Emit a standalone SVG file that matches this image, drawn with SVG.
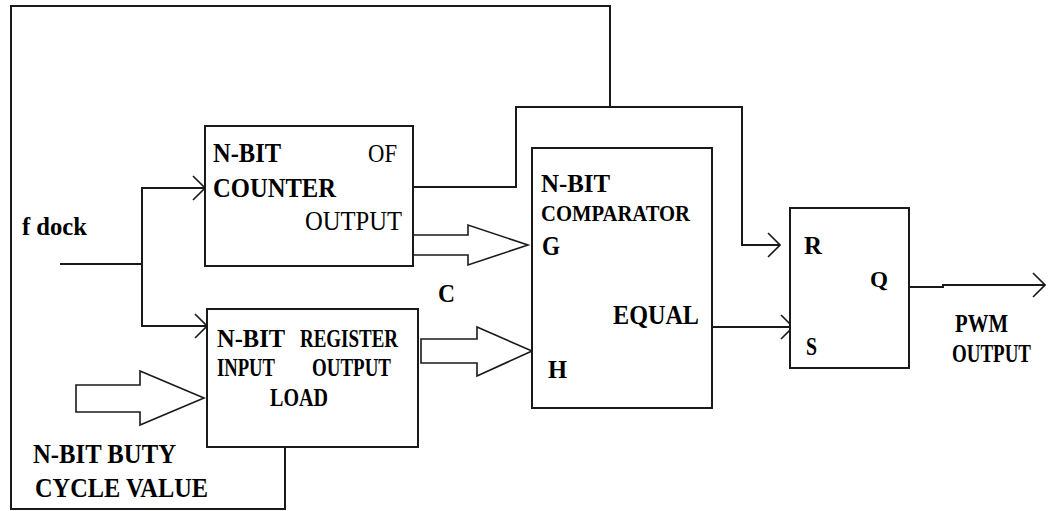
<svg xmlns="http://www.w3.org/2000/svg" width="1050" height="511" viewBox="0 0 1050 511">
<style>
.box{fill:#fff;stroke:#1a1a1a;stroke-width:2}
.ln{fill:none;stroke:#1a1a1a;stroke-width:2}
.bus{fill:#fff;stroke:#1a1a1a;stroke-width:1.6;stroke-linejoin:miter}
text{font-family:"Liberation Serif","Times New Roman",serif;font-weight:bold;fill:#000}
.rg{font-weight:normal}
</style>
<defs>
<marker id="ah" viewBox="0 0 14 26" refX="13" refY="13" markerWidth="14" markerHeight="26" markerUnits="userSpaceOnUse" orient="auto">
<path d="M1,1 L13,13 L1,25" fill="none" stroke="#1a1a1a" stroke-width="1.6"/>
</marker>
</defs>
<rect width="1050" height="511" fill="#fff"/>
<g id="connectors">
<path class="ln" d="M60,264 H142 V188 H205" marker-end="url(#ah)"/>
<path class="ln" d="M142,264 V326 H207" marker-end="url(#ah)"/>
<path class="ln" d="M285,447 V509 H11 V6 H610 V107"/>
<path class="ln" d="M412,187 H516 V107 H742 V245 H780" marker-end="url(#ah)"/>
<path class="ln" d="M712,327 H793" marker-end="url(#ah)"/>
<path class="ln" d="M909,287 H943 V285 H1045" marker-end="url(#ah)"/>
<polygon class="bus" points="412,235 468,235 468,225 528,245 468,265 468,255 412,255"/>
<polygon class="bus" points="421,339 477,339 477,327 532,351 477,376 477,363 421,363"/>
<polygon class="bus" points="76,385 140,385 140,371 204,398 140,425 140,412 76,412"/>
</g>
<g id="clock">
<text x="22" y="235" font-size="25" textLength="65" lengthAdjust="spacingAndGlyphs">f dock</text>
</g>
<g id="counter">
<rect class="box" x="205" y="126" width="208" height="140"/>
<text x="213" y="162" font-size="28" textLength="68" lengthAdjust="spacingAndGlyphs">N-BIT</text>
<text class="rg" x="368" y="162" font-size="25" textLength="29" lengthAdjust="spacingAndGlyphs">OF</text>
<text x="213" y="197" font-size="27" textLength="123" lengthAdjust="spacingAndGlyphs">COUNTER</text>
<text class="rg" x="305" y="230" font-size="27" textLength="97" lengthAdjust="spacingAndGlyphs">OUTPUT</text>
</g>
<g id="c-label">
<text x="438" y="302" font-size="25" textLength="17" lengthAdjust="spacingAndGlyphs">C</text>
</g>
<g id="register">
<rect class="box" x="207" y="309" width="211" height="138"/>
<text x="217" y="347" font-size="26" textLength="68" lengthAdjust="spacingAndGlyphs">N-BIT</text>
<text x="300" y="347" font-size="26" textLength="98" lengthAdjust="spacingAndGlyphs">REGISTER</text>
<text x="217" y="376" font-size="25" textLength="58" lengthAdjust="spacingAndGlyphs">INPUT</text>
<text x="312" y="376" font-size="25" textLength="79" lengthAdjust="spacingAndGlyphs">OUTPUT</text>
<text x="270" y="406" font-size="25" textLength="58" lengthAdjust="spacingAndGlyphs">LOAD</text>
</g>
<g id="duty-input">
<text x="33" y="463" font-size="27" textLength="143" lengthAdjust="spacingAndGlyphs">N-BIT BUTY</text>
<text x="35" y="497" font-size="28" textLength="173" lengthAdjust="spacingAndGlyphs">CYCLE VALUE</text>
</g>
<g id="comparator">
<rect class="box" x="532" y="148" width="180" height="260"/>
<text x="541" y="192" font-size="26" textLength="69" lengthAdjust="spacingAndGlyphs">N-BIT</text>
<text x="541" y="221" font-size="23" textLength="149" lengthAdjust="spacingAndGlyphs">COMPARATOR</text>
<text x="542" y="255" font-size="27" textLength="18" lengthAdjust="spacingAndGlyphs">G</text>
<text x="613" y="324" font-size="27" textLength="86" lengthAdjust="spacingAndGlyphs">EQUAL</text>
<text x="548" y="378" font-size="26" textLength="19" lengthAdjust="spacingAndGlyphs">H</text>
</g>
<g id="flipflop">
<rect class="box" x="790" y="208" width="119" height="160"/>
<text x="804" y="254" font-size="25" textLength="18" lengthAdjust="spacingAndGlyphs">R</text>
<text x="870" y="287" font-size="24" textLength="18" lengthAdjust="spacingAndGlyphs">Q</text>
<text x="806" y="355" font-size="25" textLength="11" lengthAdjust="spacingAndGlyphs">S</text>
</g>
<g id="pwm-output">
<text transform="translate(955,332) scale(1,1.25)" font-size="20" textLength="53" lengthAdjust="spacingAndGlyphs">PWM</text>
<text transform="translate(952,362) scale(1,1.3)" font-size="19" textLength="79" lengthAdjust="spacingAndGlyphs">OUTPUT</text>
</g>
</svg>
